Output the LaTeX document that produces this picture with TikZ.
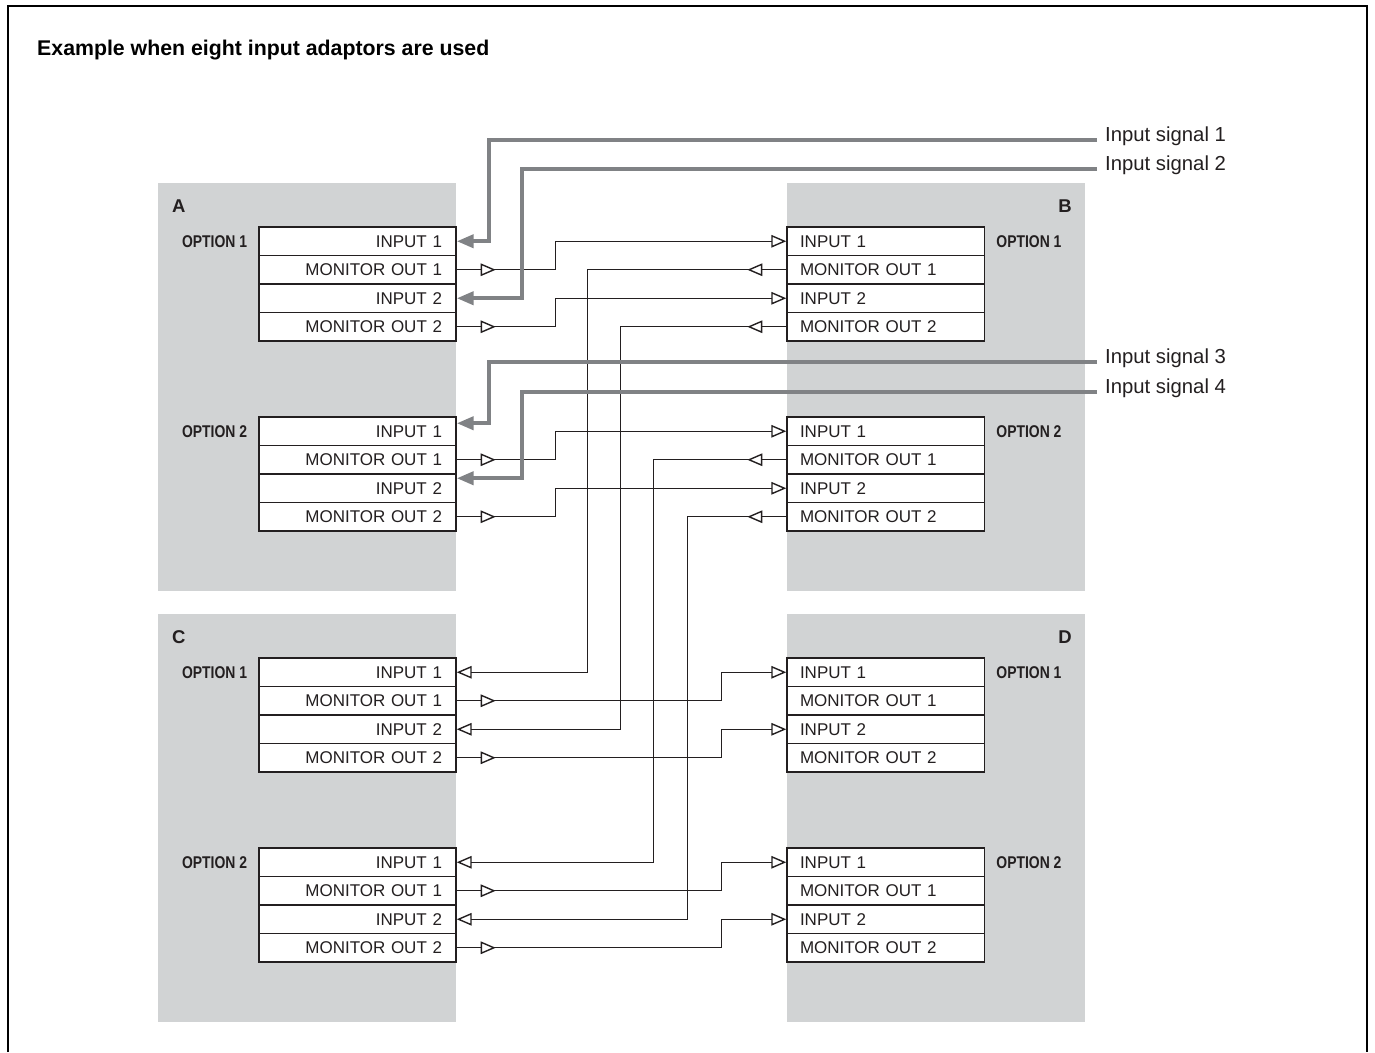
\documentclass[tikz,border=0pt]{standalone}
\usepackage{fontspec}
\setmainfont{Liberation Sans}
\newfontfamily\optfont{Liberation Sans}[FakeStretch=0.82]
\usetikzlibrary{arrows.meta,decorations.markings}
\definecolor{ink}{HTML}{231F20}
\definecolor{panel}{HTML}{D1D3D4}
\definecolor{sig}{HTML}{808285}
\tikzset{
  panelbox/.style={fill=panel, draw=none, inner sep=0pt, minimum width=298pt, minimum height=408pt, anchor=north west},
  rowbase/.style={draw=ink, fill=white, line width=1.4pt, minimum height=28.5pt, inner ysep=0pt,
    text height=12.3pt, text depth=0pt, font=\fontsize{17}{17}\selectfont, text=ink},
  lrow/.style={rowbase, text width=169pt, inner xsep=14pt, align=right},
  rrow/.style={rowbase, text width=171.5pt, inner xsep=13pt, align=left},
  conn/.style={draw=ink, line width=1.4pt},
  endtip/.style={-{Triangle[open,length=15pt,width=12.5pt]}},
  midtip/.style={postaction={decorate}, decoration={markings,
    mark=at position 39pt with {\arrow{Triangle[length=15pt,width=12.5pt,fill=white]}}}},
  sigline/.style={draw=sig, line width=4pt, line join=miter, -{Triangle[length=17pt,width=13pt]}},
  sigtext/.style={font=\fontsize{20.3}{20.3}\selectfont, text=ink, inner sep=0pt, anchor=base west},
  unitletter/.style={font=\bfseries\fontsize{18.5}{18.5}\selectfont, text=ink, inner sep=0pt},
  optlabel/.style={font=\optfont\bfseries\fontsize{17}{17}\selectfont, text=ink, inner sep=0pt,
    text height=12.3pt, text depth=0pt},
  titletext/.style={font=\bfseries\fontsize{21.3}{21.3}\selectfont, text=black, inner sep=0pt, anchor=base west},
}
\newcommand\leftopt[2]{%
  \node[lrow] (#1I1) at (357.5,#2+14.25) {INPUT 1};
  \node[lrow] (#1M1) at (357.5,#2+42.75) {MONITOR OUT 1};
  \node[lrow] (#1I2) at (357.5,#2+71.25) {INPUT 2};
  \node[lrow] (#1M2) at (357.5,#2+99.75) {MONITOR OUT 2};
}
\newcommand\rightopt[2]{%
  \node[rrow] (#1I1) at (885.75,#2+14.25) {INPUT 1};
  \node[rrow] (#1M1) at (885.75,#2+42.75) {MONITOR OUT 1};
  \node[rrow] (#1I2) at (885.75,#2+71.25) {INPUT 2};
  \node[rrow] (#1M2) at (885.75,#2+99.75) {MONITOR OUT 2};
}
\begin{document}
\begin{tikzpicture}[x=1pt,y=-1pt]
\useasboundingbox (0,0) rectangle (1375,1052);
\fill[white] (0,0) rectangle (1375,1052);
% frame
\draw[line width=2pt, black] (8,1052) -- (8,6) -- (1367,6) -- (1367,1052);
\node[titletext] (title) at (37,55) {Example when eight input adaptors are used};
% panels
\node[panelbox] (pA) at (158,183) {};
\node[panelbox] (pB) at (787,183) {};
\node[panelbox] (pC) at (158,614) {};
\node[panelbox] (pD) at (787,614) {};
\node[unitletter, anchor=base west] (lA) at (172,212) {A};
\node[unitletter, anchor=base east] (lB) at (1072,212) {B};
\node[unitletter, anchor=base west] (lC) at (172,643) {C};
\node[unitletter, anchor=base east] (lD) at (1072,643) {D};
% option boxes
\leftopt{Aa}{227}
\leftopt{Ab}{417}
\leftopt{Ca}{658}
\leftopt{Cb}{848}
\rightopt{Ba}{227}
\rightopt{Bb}{417}
\rightopt{Da}{658}
\rightopt{Db}{848}
% option labels
\node[optlabel, anchor=east] (oAa) at ([xshift=-11pt]AaI1.west) {OPTION 1};
\node[optlabel, anchor=east] (oAb) at ([xshift=-11pt]AbI1.west) {OPTION 2};
\node[optlabel, anchor=east] (oCa) at ([xshift=-11pt]CaI1.west) {OPTION 1};
\node[optlabel, anchor=east] (oCb) at ([xshift=-11pt]CbI1.west) {OPTION 2};
\node[optlabel, anchor=west] (oBa) at ([xshift=11pt]BaI1.east) {OPTION 1};
\node[optlabel, anchor=west] (oBb) at ([xshift=11pt]BbI1.east) {OPTION 2};
\node[optlabel, anchor=west] (oDa) at ([xshift=11pt]DaI1.east) {OPTION 1};
\node[optlabel, anchor=west] (oDb) at ([xshift=11pt]DbI1.east) {OPTION 2};
% A -> B
\draw[conn,midtip,endtip] (AaM1.east) -- ++(99,0) |- (BaI1.west);
\draw[conn,midtip,endtip] (AaM2.east) -- ++(99,0) |- (BaI2.west);
\draw[conn,midtip,endtip] (AbM1.east) -- ++(99,0) |- (BbI1.west);
\draw[conn,midtip,endtip] (AbM2.east) -- ++(99,0) |- (BbI2.west);
% B -> C
\draw[conn,midtip,endtip] (BaM1.west) -- ++(-199,0) |- (CaI1.east);
\draw[conn,midtip,endtip] (BaM2.west) -- ++(-166,0) |- (CaI2.east);
\draw[conn,midtip,endtip] (BbM1.west) -- ++(-133,0) |- (CbI1.east);
\draw[conn,midtip,endtip] (BbM2.west) -- ++(-99,0) |- (CbI2.east);
% C -> D
\draw[conn,midtip,endtip] (CaM1.east) -- ++(265,0) |- (DaI1.west);
\draw[conn,midtip,endtip] (CaM2.east) -- ++(265,0) |- (DaI2.west);
\draw[conn,midtip,endtip] (CbM1.east) -- ++(265,0) |- (DbI1.west);
\draw[conn,midtip,endtip] (CbM2.east) -- ++(265,0) |- (DbI2.west);
% input signals
\coordinate (s1) at (1097,140);
\coordinate (s2) at (1097,169);
\coordinate (s3) at (1097,362);
\coordinate (s4) at (1097,392);
\node[sigtext] (t1) at (1105,141) {Input signal 1};
\node[sigtext] (t2) at (1105,170) {Input signal 2};
\node[sigtext] (t3) at (1105,363) {Input signal 3};
\node[sigtext] (t4) at (1105,393) {Input signal 4};
\draw[sigline] (s1) -| ([xshift=32pt]AaI1.east) -- (AaI1.east);
\draw[sigline] (s2) -| ([xshift=65pt]AaI2.east) -- (AaI2.east);
\draw[sigline] (s3) -| ([xshift=32pt,yshift=8pt]AbI1.east) -- ([yshift=8pt]AbI1.east);
\draw[sigline] (s4) -| ([xshift=65pt,yshift=10pt]AbI2.east) -- ([yshift=10pt]AbI2.east);
\end{tikzpicture}
\end{document}
